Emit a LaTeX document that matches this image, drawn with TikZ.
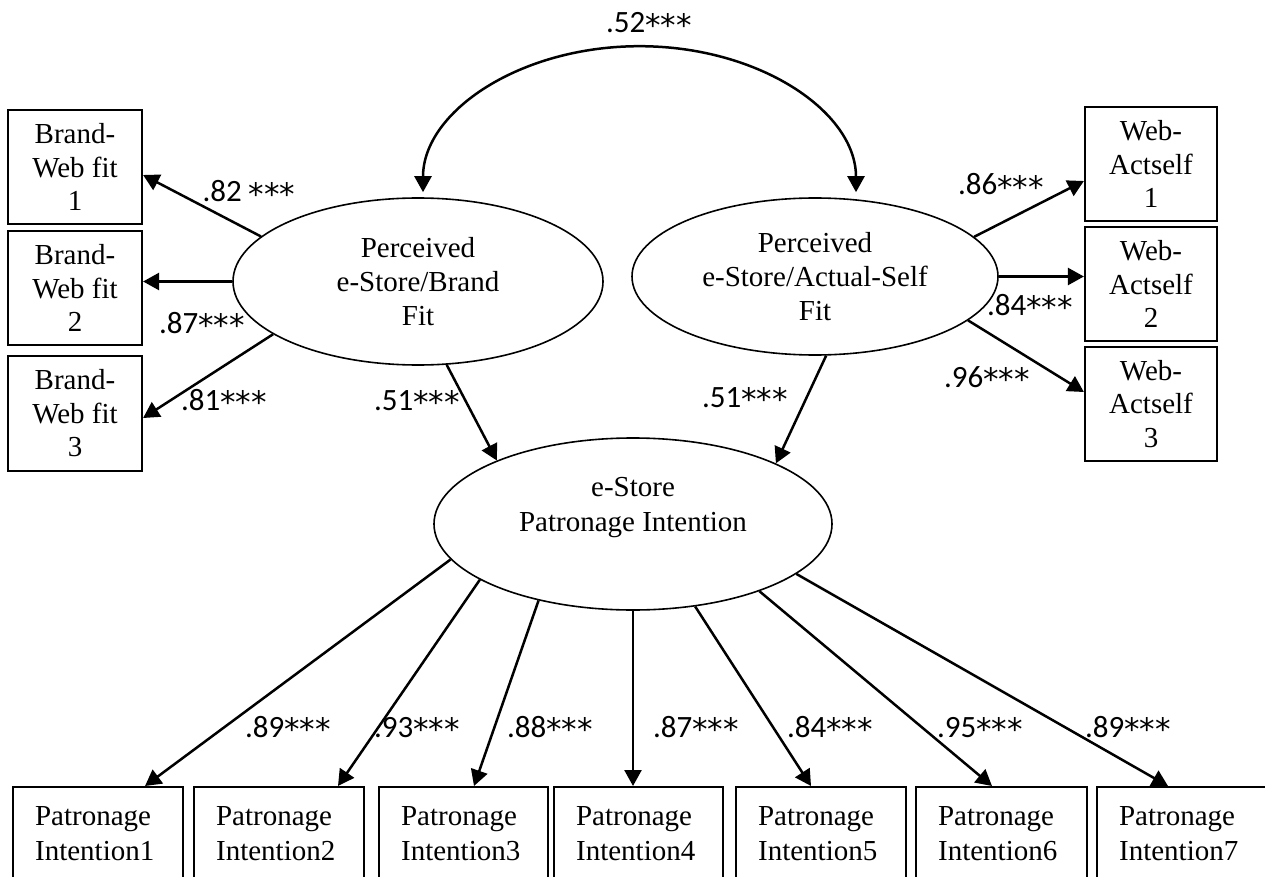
\documentclass[tikz,border=0pt]{standalone}
\usepackage{fontspec}
\setmainfont{Liberation Serif}
\newfontfamily\coeffont{Carlito}
\newfontfamily\starfont{DejaVu Sans}
\newcommand\sigstars{{\starfont\raisebox{-3.5pt}{***}}}
\usetikzlibrary{arrows.meta,shapes.geometric}
\begin{document}
\begin{tikzpicture}[x=1pt,y=-1pt,
  every node/.style={inner sep=0pt},
  semtip/.tip={Triangle[width=17pt,length=16pt]},
  latent/.style={ellipse, draw, line width=1.6pt, align=center,
    font=\fontsize{29}{34}\selectfont},
  indbox/.style={rectangle, draw, line width=2.2pt, align=center,
    minimum height=114pt, font=\fontsize{29}{33.5}\selectfont},
  patbox/.style={rectangle, draw, line width=2.2pt, anchor=north west,
    align=left, inner xsep=22pt, inner ysep=19.5pt,
    font=\fontsize{29}{35}\selectfont},
  coef/.style={anchor=base, font=\coeffont\fontsize{31}{37}\selectfont},
  path/.style={line width=2.5pt, -{semtip}},
  covpath/.style={line width=2.5pt, {semtip}-{semtip}}
]
% page frame
\fill[white, use as bounding box] (0,0) rectangle (1265,877);

% latent variables
\node[latent, minimum width=370pt, minimum height=167pt] (bf) at (418,281.5)
  {Perceived\\e-Store/Brand\\Fit};
\node[latent, minimum width=366pt, minimum height=157pt] (af) at (815,276.5)
  {Perceived\\e-Store/Actual-Self\\Fit};
\node[latent, minimum width=398pt, minimum height=172pt] (pi) at (633,524) {};
\node[align=center, font=\fontsize{29}{35}\selectfont] (pit) at (633,508)
  {e-Store\\Patronage Intention};

% indicators of brand fit
\node[indbox, minimum width=134pt] (b1) at (75,167) {Brand-\\Web fit\\1};
\node[indbox, minimum width=134pt] (b2) at (75,288) {Brand-\\Web fit\\2};
\node[indbox, minimum width=134pt, minimum height=115pt] (b3) at (75,413.5) {Brand-\\Web fit\\3};

% indicators of actual-self fit
\node[indbox, minimum width=132pt] (w1) at (1151,164) {Web-\\Actself\\1};
\node[indbox, minimum width=132pt] (w2) at (1151,284) {Web-\\Actself\\2};
\node[indbox, minimum width=132pt] (w3) at (1151,404) {Web-\\Actself\\3};

% indicators of patronage intention
\node[patbox, text width=126pt] (p1) at (12,786)   {Patronage\\Intention1};
\node[patbox, text width=126pt] (p2) at (193,786)  {Patronage\\Intention2};
\node[patbox, text width=125pt] (p3) at (378,786)  {Patronage\\Intention3};
\node[patbox, text width=125pt] (p4) at (553,786)  {Patronage\\Intention4};
\node[patbox, text width=126pt] (p5) at (735,786)  {Patronage\\Intention5};
\node[patbox, text width=127pt] (p6) at (915,786)  {Patronage\\Intention6};
\node[patbox, text width=140pt] (p7) at (1096,786) {Patronage\\Intention7};

% correlation between the two fit constructs
\draw[covpath] ([shift={(5,-5)}]bf.north)
  arc[start angle=180, end angle=0, x radius=216.5pt, y radius=146pt];
\node[coef] (c52) at (649,33) {.52\sigstars};

% loadings of brand fit
\draw[path] (bf.164.5) -- ([shift={(0,8)}]b1.east);
\draw[path] (bf.west) -- (bf.west -| b2.east);
\draw[path] (bf.200.6) -- ([shift={(0,4.5)}]b3.east);
\node[coef] (c82) at (249,202) {.82 \sigstars};
\node[coef] (c87) at (202,333) {.87\sigstars};
\node[coef] (c81) at (224,410) {.81\sigstars};

% loadings of actual-self fit
\draw[path] (af.14) -- ([shift={(0,17)}]w1.west);
\draw[path] (af.east) -- (af.east -| w2.west);
\draw[path] (af.344.9) -- ([shift={(0,-12)}]w3.west);
\node[coef] (c86) at (1001,195) {.86\sigstars};
\node[coef] (c84) at (1030,315) {.84\sigstars};
\node[coef] (c96) at (987,387) {.96\sigstars};

% structural paths
\draw[path] (bf.289.5) -- (pi.155.3);
\draw[path] (af.278.5) -- (pi.23.2);
\node[coef] (s1) at (417,410) {.51\sigstars};
\node[coef] (s2) at (745,407) {.51\sigstars};

% loadings of patronage intention
\draw[path] (pi.191.2) -- ([shift={(133,0)}]p1.north west);
\draw[path] (pi.200.1) -- ([shift={(145,0)}]p2.north west);
\draw[path] (pi.219.9) -- ([shift={(96,0)}]p3.north west);
\draw[path] (pi.270)   -- ([shift={(80,0)}]p4.north west);
\draw[path] (pi.307.2) -- ([shift={(76,0)}]p5.north west);
\draw[path] (pi.332.5) -- ([shift={(77,0)}]p6.north west);
\draw[path] (pi.343.3) -- ([shift={(72,0)}]p7.north west);
\node[coef] (q1) at (288,737)  {.89\sigstars};
\node[coef] (q2) at (417,737)  {.93\sigstars};
\node[coef] (q3) at (550,737)  {.88\sigstars};
\node[coef] (q4) at (696,737)  {.87\sigstars};
\node[coef] (q5) at (830,737)  {.84\sigstars};
\node[coef] (q6) at (980,737)  {.95\sigstars};
\node[coef] (q7) at (1128,737) {.89\sigstars};
\end{tikzpicture}
\end{document}
